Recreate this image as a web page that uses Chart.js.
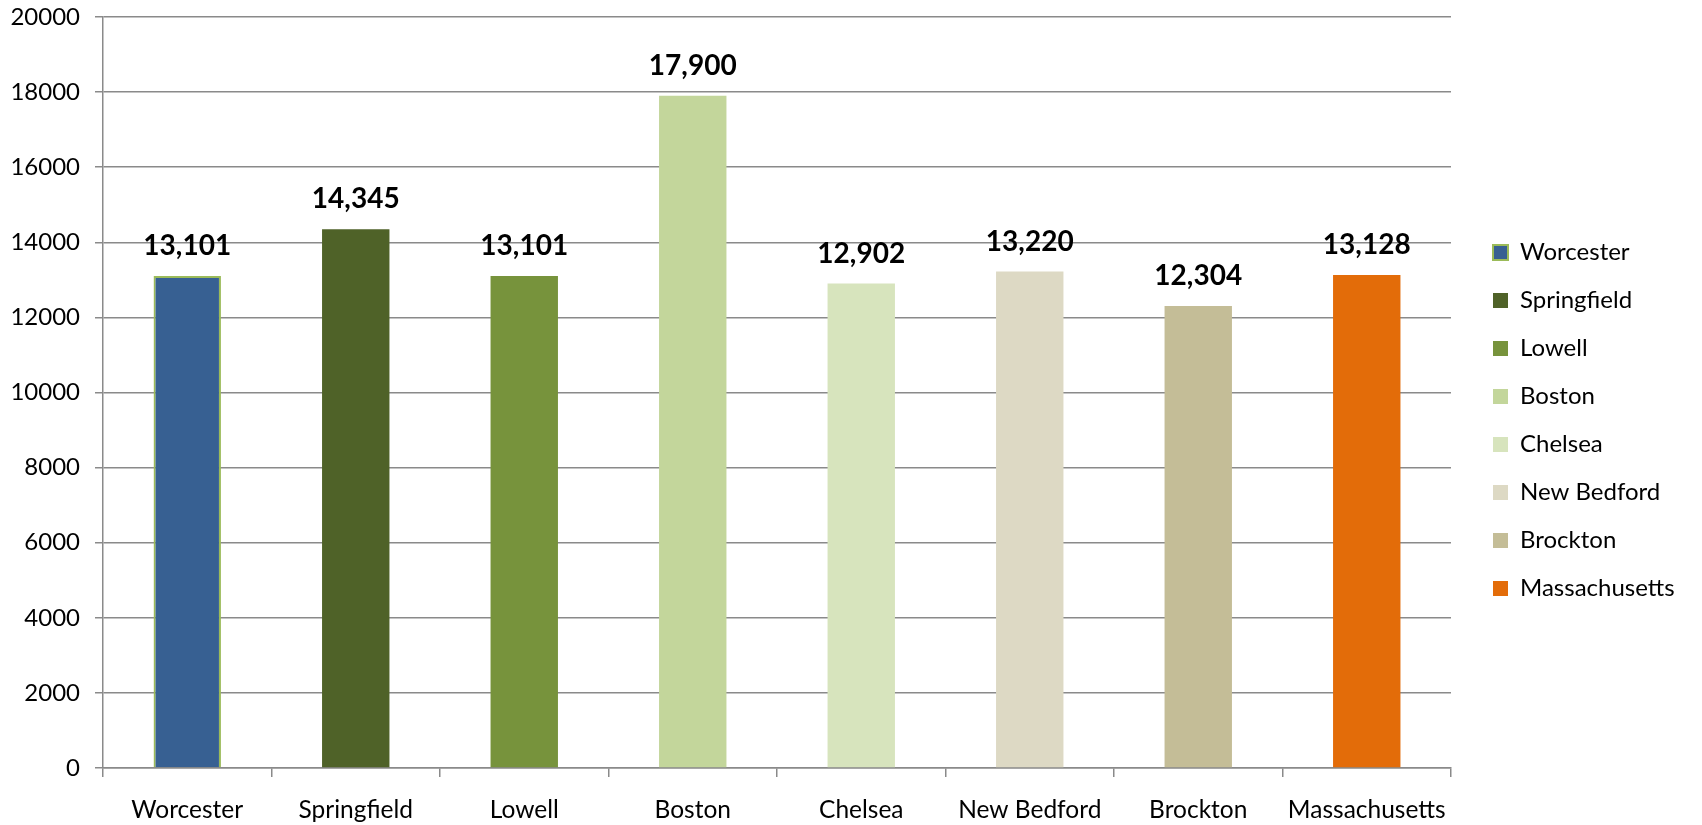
<!DOCTYPE html>
<html>
<head>
<meta charset="utf-8">
<script src="https://cdn.jsdelivr.net/npm/chart.js@4/dist/chart.umd.min.js"></script>
<style>
html,body{margin:0;padding:0;background:#fff;}
#wrap{width:1702px;height:825px;}
</style>
</head>
<body>
<div id="wrap"><canvas id="c" width="1702" height="825"></canvas></div>
<script>
const categories = ["Worcester", "Springfield", "Lowell", "Boston", "Chelsea", "New Bedford", "Brockton", "Massachusetts"];
const values = [13101, 14345, 13101, 17900, 12902, 13220, 12304, 13128];
const barColors = ["#376092", "#4F6228", "#77933C", "#C3D69B", "#D7E4BD", "#DDD9C4", "#C4BD97", "#E36C09"];
const barBorderColors = ["#9BBB59", "#4F6228", "#77933C", "#C3D69B", "#D7E4BD", "#DDD9C4", "#C4BD97", "#E36C09"];
const barBorderWidths = [2, 0, 0, 0, 0, 0, 0, 0];
const yTicks = [0, 2000, 4000, 6000, 8000, 10000, 12000, 14000, 16000, 18000, 20000];

const FONT = "Lato, 'Open Sans', sans-serif";
const GRID = "#8a8a8a";

// measure legend width to place it
const mctx = document.createElement('canvas').getContext('2d');
mctx.font = "24px " + FONT;
let maxW = 0;
categories.forEach(t => { maxW = Math.max(maxW, mctx.measureText(t).width); });
const legendPad = 24;
const legendWidth = legendPad + 15 + 12 + maxW + 10;
const padRight = Math.max(0, 233 - legendWidth);

const valueLabels = {
  id: 'valueLabels',
  afterDatasetsDraw(chart) {
    const ctx = chart.ctx;
    const meta = chart.getDatasetMeta(0);
    ctx.save();
    ctx.font = "bold 28px " + FONT;
    ctx.fillStyle = "#000";
    ctx.textAlign = "center";
    ctx.textBaseline = "alphabetic";
    meta.data.forEach((el, i) => {
      const v = chart.data.datasets[0].data[i];
      ctx.fillText(v.toLocaleString('en-US'), el.x, el.y - 21);
    });
    ctx.restore();
  }
};

new Chart(document.getElementById('c'), {
  type: 'bar',
  data: {
    labels: categories,
    datasets: [{
      label: 'Value',
      data: values,
      backgroundColor: barColors,
      borderColor: barBorderColors,
      borderWidth: barBorderWidths,
      categoryPercentage: 1.0,
      barPercentage: 0.4
    }]
  },
  options: {
    responsive: false,
    animation: false,
    devicePixelRatio: 1,
    layout: { padding: { top: 17, bottom: 1, left: 0, right: padRight } },
    plugins: {
      tooltip: { enabled: false },
      legend: {
        position: 'right',
        align: 'center',
        labels: {
          boxWidth: 15,
          boxHeight: 15,
          padding: legendPad,
          color: '#000',
          font: { family: FONT, size: 24 },
          generateLabels(chart) {
            return categories.map((c, i) => ({
              text: c,
              fillStyle: barColors[i],
              strokeStyle: barBorderColors[i],
              lineWidth: barBorderWidths[i],
              hidden: false,
              index: i,
              datasetIndex: 0
            }));
          }
        }
      }
    },
    scales: {
      x: {
        grid: {
          display: true,
          drawOnChartArea: false,
          drawTicks: true,
          tickLength: 9,
          color: GRID,
          lineWidth: 1.5,
          offset: true
        },
        border: { display: true, color: GRID, width: 1.5 },
        ticks: {
          color: '#000',
          font: { family: FONT, size: 24.5 },
          padding: 18,
          maxRotation: 0,
          autoSkip: false
        },
        afterFit(s) { s.height = 56; }
      },
      y: {
        min: 0,
        max: 20000,
        afterBuildTicks(s) { s.ticks = yTicks.map(v => ({ value: v })); },
        grid: {
          color: GRID,
          lineWidth: 1.5,
          drawTicks: true,
          tickLength: 8
        },
        border: { display: true, color: GRID, width: 1.5 },
        ticks: {
          color: '#000',
          font: { family: FONT, size: 24 },
          padding: 15,
          callback: v => String(v)
        },
        afterFit(s) { s.width = 103; s.paddingTop = 10; s.paddingBottom = 10; }
      },
      gap: {
        type: 'linear',
        position: 'right',
        display: true,
        grid: { display: false },
        border: { display: false },
        ticks: { display: false },
        afterFit(s) { s.width = 18; s.paddingTop = 0; s.paddingBottom = 0; }
      }
    }
  },
  plugins: [valueLabels]
});
</script>
</body>
</html>
